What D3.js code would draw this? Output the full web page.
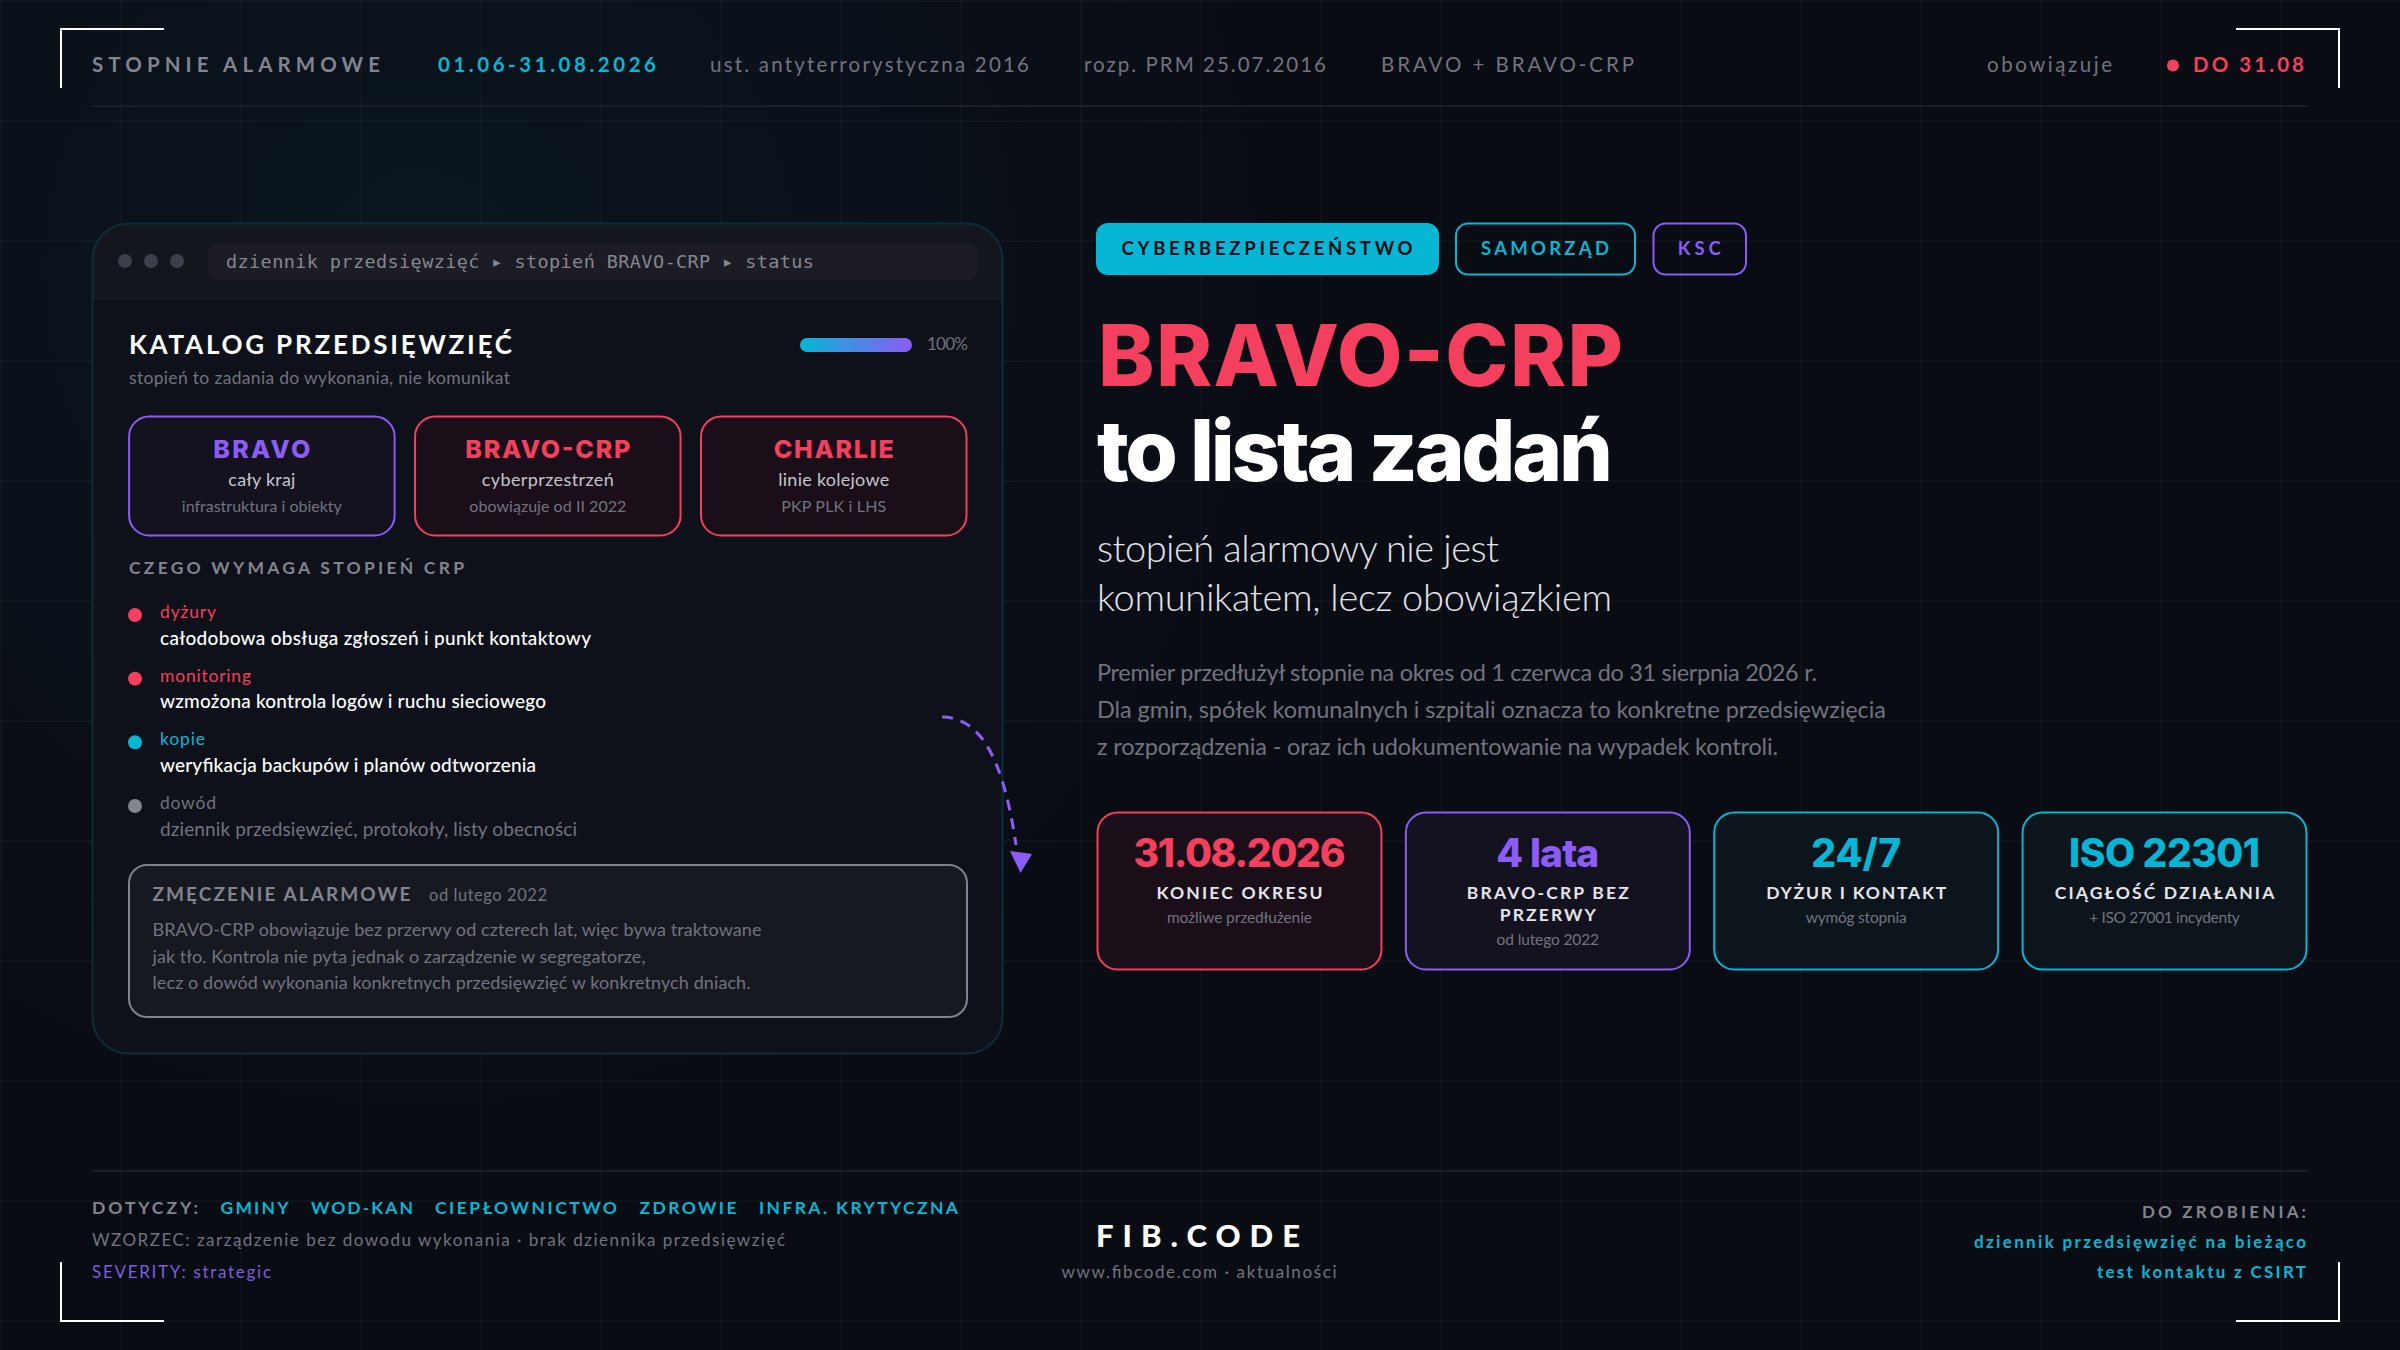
<!DOCTYPE html>
<html lang="pl">
<head>
<meta charset="utf-8">
<title>BRAVO-CRP</title>
<script src="https://cdnjs.cloudflare.com/ajax/libs/d3/7.9.0/d3.min.js"></script>
<style>
  html, body { margin: 0; padding: 0; background: #0a0c14; }
  svg { display: block; }
  text { font-family: Lato, "Noto Sans", sans-serif; white-space: pre; }
</style>
</head>
<body>
<svg id="slide"></svg>
<script>
const headerItems = ["ust. antyterrorystyczna 2016", "rozp. PRM 25.07.2016", "BRAVO + BRAVO-CRP"];
const tags = ["CYBERBEZPIECZEŃSTWO", "SAMORZĄD", "KSC"];
const levelNames = ["BRAVO", "BRAVO-CRP", "CHARLIE"];
const levelScope = ["cały kraj", "cyberprzestrzeń", "linie kolejowe"];
const levelNotes = ["infrastruktura i obiekty", "obowiązuje od II 2022", "PKP PLK i LHS"];
const reqLabels = ["dyżury", "monitoring", "kopie", "dowód"];
const reqTexts = [
  "całodobowa obsługa zgłoszeń i punkt kontaktowy",
  "wzmożona kontrola logów i ruchu sieciowego",
  "weryfikacja backupów i planów odtworzenia",
  "dziennik przedsięwzięć, protokoły, listy obecności"
];
const fatigueLines = [
  "BRAVO-CRP obowiązuje bez przerwy od czterech lat, więc bywa traktowane",
  "jak tło. Kontrola nie pyta jednak o zarządzenie w segregatorze,",
  "lecz o dowód wykonania konkretnych przedsięwzięć w konkretnych dniach."
];
const subtitleLines = ["stopień alarmowy nie jest", "komunikatem, lecz obowiązkiem"];
const introLines = [
  "Premier przedłużył stopnie na okres od 1 czerwca do 31 sierpnia 2026 r.",
  "Dla gmin, spółek komunalnych i szpitali oznacza to konkretne przedsięwzięcia",
  "z rozporządzenia - oraz ich udokumentowanie na wypadek kontroli."
];
const statValues = ["31.08.2026", "4 lata", "24/7", "ISO 22301"];
const statLabels = [["KONIEC OKRESU"], ["BRAVO-CRP BEZ", "PRZERWY"], ["DYŻUR I KONTAKT"], ["CIĄGŁOŚĆ DZIAŁANIA"]];
const statNotes = ["możliwe przedłużenie", "od lutego 2022", "wymóg stopnia", "+ ISO 27001 incydenty"];
const sectors = ["GMINY", "WOD-KAN", "CIEPŁOWNICTWO", "ZDROWIE", "INFRA. KRYTYCZNA"];
const todoItems = ["dziennik przedsięwzięć na bieżąco", "test kontaktu z CSIRT"];
const progress = 100;

const W = 2400, H = 1350;
const rose = "#f43f5e", violet = "#8b5cf6", cyan = "#06b6d4";
const white = "#ffffff", soft = "#e4e4ea", grey = "#82848e", dim = "#71737e";
const heavy = "Inter, Lato, sans-serif";

const svg = d3.select("#slide").attr("width", W).attr("height", H).attr("viewBox", `0 0 ${W} ${H}`);
const defs = svg.append("defs");

const glow = defs.append("radialGradient").attr("id", "glow")
    .attr("gradientUnits", "userSpaceOnUse")
    .attr("cx", 420).attr("cy", 270).attr("r", 900);
glow.append("stop").attr("offset", 0).attr("stop-color", cyan).attr("stop-opacity", 0.055);
glow.append("stop").attr("offset", 1).attr("stop-color", cyan).attr("stop-opacity", 0);

const barFill = defs.append("linearGradient").attr("id", "barFill");
barFill.append("stop").attr("offset", 0).attr("stop-color", cyan);
barFill.append("stop").attr("offset", 1).attr("stop-color", violet);

defs.append("clipPath").attr("id", "panelClip").append("rect")
    .attr("x", 92).attr("y", 223).attr("width", 911).attr("height", 831).attr("rx", 36);

// one text line, stretched to the width measured on the reference
function txt(parent, s, x, y, size, weight, fill, width, anchor, family) {
  const t = parent.append("text")
      .attr("x", x).attr("y", y)
      .attr("font-size", size).attr("font-weight", weight)
      .attr("fill", fill).attr("text-anchor", anchor || "start")
      .text(s);
  if (width) t.attr("textLength", width).attr("lengthAdjust", "spacing");
  if (family) t.style("font-family", family);
  return t;
}

function box(parent, x, y, w, h, r, fill, stroke, sw) {
  return parent.append("rect")
      .attr("x", x).attr("y", y).attr("width", w).attr("height", h).attr("rx", r)
      .attr("fill", fill).attr("stroke", stroke || "none").attr("stroke-width", sw || 0);
}

// background
svg.append("rect").attr("width", W).attr("height", H).attr("fill", "#0a0c14");
svg.append("rect").attr("width", W).attr("height", H).attr("fill", "url(#glow)");

const grid = svg.append("g").attr("stroke", "#ffffff").attr("stroke-opacity", 0.028).attr("stroke-width", 2);
grid.selectAll(".gv").data(d3.range(0, W + 1, 120)).enter().append("line")
    .attr("x1", d => d + 1).attr("x2", d => d + 1).attr("y1", 0).attr("y2", H);
grid.selectAll(".gh").data(d3.range(0, H + 1, 120)).enter().append("line")
    .attr("y1", d => d + 1).attr("y2", d => d + 1).attr("x1", 0).attr("x2", W);

// corner marks
const corners = svg.append("g").attr("fill", "none").attr("stroke", white).attr("stroke-width", 2);
[
  "M61,88V29H164",
  "M2236,29H2339V88",
  "M61,1262V1321H164",
  "M2236,1321H2339V1262"
].forEach(p => corners.append("path").attr("d", p));

// header
const head = svg.append("g");
txt(head, "STOPNIE ALARMOWE", 92, 72, 20.5, 700, grey, 288);
txt(head, "01.06-31.08.2026", 438, 72, 20.5, 700, cyan, 218);
const headX = [710, 1084, 1381], headW = [319, 242, 253];
headerItems.forEach((s, i) => txt(head, s, headX[i], 72, 20.5, 400, dim, headW[i]));
txt(head, "obowiązuje", 1987, 72, 20.5, 400, dim, 125);
head.append("circle").attr("cx", 2173).attr("cy", 65.5).attr("r", 6).attr("fill", rose);
txt(head, "DO 31.08", 2193, 72, 20.5, 700, rose, 111);
head.append("rect").attr("x", 92).attr("y", 105).attr("width", 2216).attr("height", 2).attr("fill", "#1c1e27");

// left panel
const panel = svg.append("g");
box(panel, 92, 223, 911, 831, 36, "#0e1119");
panel.append("rect").attr("x", 92).attr("y", 223).attr("width", 911).attr("height", 75)
    .attr("fill", "#14161e").attr("clip-path", "url(#panelClip)");
panel.append("rect").attr("x", 92).attr("y", 298).attr("width", 911).attr("height", 1.5)
    .attr("fill", "#171b24");
box(panel, 92.5, 223.5, 910, 830, 36, "none", "#0e2c35", 2);
panel.selectAll(".dot").data([125, 151, 177]).enter().append("circle")
    .attr("cx", d => d).attr("cy", 261).attr("r", 7).attr("fill", "#3d3f4a");
box(panel, 208, 243, 770, 37, 10, "#1b1c24");
txt(panel, "dziennik przedsięwzięć ▸ stopień BRAVO-CRP ▸ status", 226, 268, 18.5, 400, "#85878f", 588, "start", "'DejaVu Sans Mono', monospace");

txt(panel, "KATALOG PRZEDSIĘWZIĘĆ", 129, 354, 26, 700, white, 383);
txt(panel, "stopień to zadania do wykonania, nie komunikat", 129, 384, 17.5, 400, dim, 381);

const progressX = d3.scaleLinear().domain([0, 100]).range([800, 912]);
box(panel, progressX(0), 338, progressX(progress) - progressX(0), 14, 7, "url(#barFill)");
txt(panel, `${progress}%`, 927, 350, 17, 400, dim, 41);

// alert level cards
const levelX = d3.scaleBand().domain(levelNames).range([128.6, 967]).paddingInner(0.068);
const levelColors = [violet, rose, rose];
const levelFill = ["#14121f", "#1a0f19", "#1a0f19"];
const levelNameW = [97, 165, 120], levelScopeW = [67, 132, 111], levelNoteW = [160, 157, 105];
levelNames.forEach((name, i) => {
  const x = levelX(name), w = levelX.bandwidth(), cx = x + w / 2;
  const g = panel.append("g");
  box(g, x + 0.5, 416.5, w - 1, 119, 20, levelFill[i], levelColors[i], 2);
  txt(g, name, cx, 458, 25, 800, levelColors[i], levelNameW[i], "middle", heavy);
  txt(g, levelScope[i], cx, 486, 18, 400, "#c4c5cc", levelScopeW[i], "middle");
  txt(g, levelNotes[i], cx, 512, 16, 400, dim, levelNoteW[i], "middle");
});

// what the level requires
txt(panel, "CZEGO WYMAGA STOPIEŃ CRP", 129, 574, 17.5, 700, grey, 335);
const reqY = d3.scalePoint().domain(reqLabels).range([615, 806]);
const reqColors = [rose, rose, cyan, grey];
const reqTextColors = [white, white, white, dim];
const reqLabelW = [56, 91, 45, 56], reqTextW = [431, 386, 376, 417];
reqLabels.forEach((label, i) => {
  const y = reqY(label);
  panel.append("circle").attr("cx", 135).attr("cy", y).attr("r", 7).attr("fill", reqColors[i]);
  txt(panel, label, 160, y + 3, 17.5, 400, i < 3 ? reqColors[i] : dim, reqLabelW[i]);
  txt(panel, reqTexts[i], 160, y + 29.5, 19, i < 3 ? 500 : 400, reqTextColors[i], reqTextW[i]);
});

// fatigue note
box(panel, 129, 865, 838, 152, 18, "#171921", "#80828d", 2);
txt(panel, "ZMĘCZENIE ALARMOWE", 152.5, 901, 19, 700, grey, 258);
txt(panel, "od lutego 2022", 429, 901, 16.5, 400, dim, 118);
const fatigueY = [936, 962.7, 989.3], fatigueW = [609, 493, 598];
fatigueLines.forEach((s, i) => txt(panel, s, 152.5, fatigueY[i], 18, 400, dim, fatigueW[i]));

// dashed arrow
svg.append("path").attr("d", "M942,717C985,717 1005,770 1016,845")
    .attr("fill", "none").attr("stroke", violet).attr("stroke-width", 3).attr("stroke-dasharray", "11 8");
svg.append("path").attr("d", "M1010,851L1032,854L1020.5,873Z").attr("fill", violet);

// right column: tags
const right = svg.append("g");
const tagX = [1096, 1455.5, 1653], tagW = [343, 180, 93.5], tagTextW = [291, 128, 43];
const tagColors = [cyan, cyan, violet];
tags.forEach((s, i) => {
  if (i === 0) box(right, tagX[i], 223, tagW[i], 52, 12, cyan);
  else box(right, tagX[i] + 0.5, 223.5, tagW[i] - 1, 51, 12, "none", tagColors[i], 2);
  txt(right, s, tagX[i] + tagW[i] / 2 - 0.5, 254.5, 18.5, 700, i === 0 ? "#0a0c14" : tagColors[i], tagTextW[i], "middle");
});

txt(right, "BRAVO-CRP", 1098, 386, 85, 800, rose, 525, "start", heavy);
txt(right, "to lista zadań", 1097, 481, 85, 800, white, 516, "start", heavy);
const subW = [402, 515];
subtitleLines.forEach((s, i) => txt(right, s, 1097, 562 + i * 49, 38, 300, soft, subW[i]));
const introW = [720, 789, 681];
introLines.forEach((s, i) => txt(right, s, 1097, 681 + i * 37, 23.5, 400, dim, introW[i]));

// stat cards
const statX = d3.scaleBand().domain(statValues).range([1097, 2307]).paddingInner(0.076);
const statColors = [rose, violet, cyan, cyan];
const statFill = ["#1a0f19", "#14121f", "#0c151c", "#0c151c"];
const statValW = [212, 103, 90, 191], statNoteW = [145, 102.5, 101, 150.6];
const statLabelW = [[166], [162, 96], [180], [219.6]];
statValues.forEach((v, i) => {
  const x = statX(v), w = statX.bandwidth(), cx = x + w / 2;
  const g = right.append("g");
  box(g, x + 0.5, 812.5, w - 1, 157, 20, statFill[i], statColors[i], 2);
  txt(g, v, cx, 867, 39, 800, statColors[i], statValW[i], "middle", heavy);
  statLabels[i].forEach((s, j) => txt(g, s, cx, 898.7 + j * 22, 17.5, 700, soft, statLabelW[i][j], "middle"));
  txt(g, statNotes[i], cx, 922.7 + (statLabels[i].length - 1) * 22, 15.5, 400, dim, statNoteW[i], "middle");
});

// footer
const foot = svg.append("g");
foot.append("rect").attr("x", 92).attr("y", 1170).attr("width", 2216).attr("height", 2).attr("fill", "#1c1e27");
txt(foot, "DOTYCZY:", 92, 1214, 17.5, 700, grey, 106);
const sectorX = [220.5, 311, 435, 639.5, 759], sectorW = [68, 102, 182, 97, 199];
sectors.forEach((s, i) => txt(foot, s, sectorX[i], 1214, 17.5, 700, cyan, sectorW[i]));
txt(foot, "WZORZEC: zarządzenie bez dowodu wykonania · brak dziennika przedsięwzięć", 92, 1245.7, 17, 400, dim, 693);
txt(foot, "SEVERITY: strategic", 92, 1277.7, 17, 400, "#7b5fdc", 179);

txt(foot, "FIB.CODE", 1198, 1246.7, 31, 900, white, 204, "middle");
txt(foot, "www.fibcode.com · aktualności", 1199, 1277.7, 17, 400, dim, 275, "middle");

txt(foot, "DO ZROBIENIA:", 2306, 1217.7, 17, 700, grey, 164, "end");
const todoW = [332, 209], todoY = [1247.7, 1277.7];
todoItems.forEach((s, i) => txt(foot, s, 2306, todoY[i], 17, 700, cyan, todoW[i], "end"));
</script>
</body>
</html>
